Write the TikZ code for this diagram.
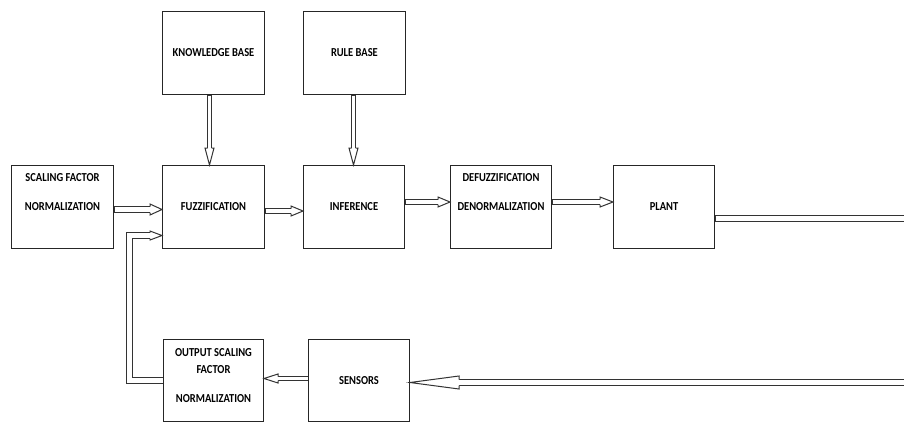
\documentclass[tikz,border=0pt]{standalone}
\usepackage{fontspec}
\setmainfont{Carlito}[FakeStretch=0.86]
\usetikzlibrary{calc,decorations.markings}
\colorlet{lc}{black!80}
\tikzset{
  blk/.style={draw=black!85, line width=1pt, minimum width=102pt, minimum height=83pt, inner sep=0pt, font=\bfseries\fontsize{12.2}{14}\selectfont},
  lbl/.style={inner sep=0pt, font=\bfseries\fontsize{12.2}{14}\selectfont},
  hollow/.style n args={3}{
    preaction={draw=lc, line width=#3+2pt, line join=miter, shorten >=#1-1pt},
    preaction={draw=white, line width=#3, line join=miter, shorten >=#1-1.5pt, shorten <=0.5pt},
    postaction={decorate, decoration={markings, mark=at position 1 with {
      \fill[white] (0.3pt,0) -- (-#1,#2) -- (-#1,-#2) -- cycle;
      \draw[lc, line width=1pt, line join=miter, shorten >=0pt, shorten <=0pt]
        (-#1,0.5*#3+0.5pt) -- (-#1,#2) -- (0,0) -- (-#1,-#2) -- (-#1,-0.5*#3-0.5pt);}}}
  },
  dbl/.style={preaction={draw=lc, line width=#1+2pt},
    preaction={draw=white, line width=#1, shorten <=0.5pt}}
}
\begin{document}
\begin{tikzpicture}[x=1pt,y=-1pt]
\useasboundingbox (0,0) rectangle (904,423);
\fill[white] (0,0) rectangle (904,423);

% boxes
\node[blk] (scal) at (62.5,207) {};
\node[blk] (fuzz) at (213.5,207) {FUZZIFICATION};
\node[blk] (kb) at (213.5,53) {KNOWLEDGE BASE};
\node[blk] (rb) at (354.5,53) {RULE BASE};
\node[blk, minimum width=101pt] (inf) at (354,207) {INFERENCE};
\node[blk, minimum width=101pt] (defz) at (501,207) {};
\node[blk, minimum width=101pt] (plant) at (664,207) {PLANT};
\node[blk, minimum width=100pt, minimum height=82pt] (outs) at (213.5,380.5) {};
\node[blk, minimum width=101pt, minimum height=82pt] (sens) at (359,380.5) {SENSORS};

% multi-line labels
\node[lbl] (scalA) at (62.5,178) {SCALING FACTOR};
\node[lbl] (scalB) at (62.5,207) {NORMALIZATION};
\node[lbl] (defzA) at (501,178) {DEFUZZIFICATION};
\node[lbl] (defzB) at (501,207) {DENORMALIZATION};
\node[lbl] (outsA) at (213.5,353) {OUTPUT SCALING};
\node[lbl] (outsB) at (213.5,370) {FACTOR};
\node[lbl] (outsC) at (213.5,399) {NORMALIZATION};

% free ends at the right edge
\coordinate (edgeA) at (904,218.5);
\coordinate (edgeB) at (904,382.5);

% connectors
\path[hollow={12pt}{5.5pt}{5pt}] ($(scal.east)+(0,2.5)$) -- ($(fuzz.west)+(0,2.5)$);
\path[hollow={12pt}{5pt}{4pt}] ($(fuzz.east)+(0,4)$) -- ($(inf.west)+(0,4)$);
\path[hollow={12pt}{5pt}{4pt}] ($(inf.east)+(0,-5)$) -- ($(defz.west)+(0,-5)$);
\path[hollow={13pt}{5pt}{4pt}] ($(defz.east)+(0,-5)$) -- ($(plant.west)+(0,-5)$);
\path[hollow={17pt}{4.5pt}{3pt}] ($(kb.south)+(-4,0)$) -- ($(fuzz.north)+(-4,0)$);
\path[hollow={17pt}{4.5pt}{3pt}] ($(rb.south)+(-1,0)$) -- ($(inf.north)+(-0.5,0)$);
\path[hollow={14pt}{4.5pt}{3pt}] ($(sens.west)+(0,-2)$) -- ($(outs.east)+(0,-2)$);
\path[hollow={12pt}{4.5pt}{5pt}] (outs.west) -- ++(-34,0) |- ($(fuzz.west)+(0,28.5)$);
\path[dbl=5pt] ($(plant.east)+(0,11.5)$) -- (edgeA);
\path[hollow={49pt}{6.5pt}{5pt}] (edgeB) -- ($(sens.east)+(0,2)$);
\end{tikzpicture}
\end{document}
